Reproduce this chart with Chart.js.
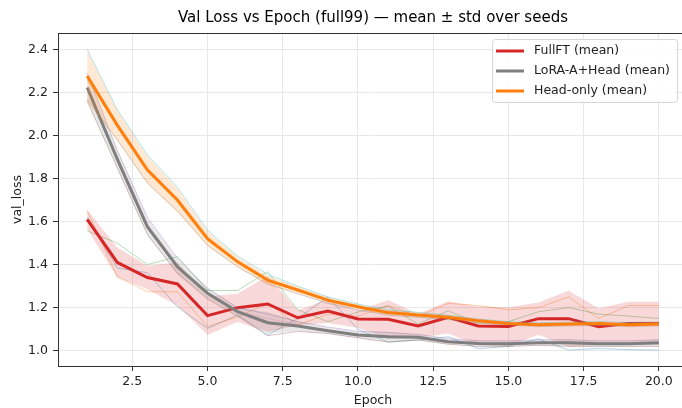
<!DOCTYPE html>
<html>
<head>
<meta charset="utf-8">
<script src="https://cdn.jsdelivr.net/npm/chart.js@4.4.0/dist/chart.umd.min.js"></script>
<style>
  html, body { margin: 0; padding: 0; background: #fff; overflow: hidden; width: 682px; height: 408px; }
  canvas { display: block; }
</style>
</head>
<body>
<canvas id="chart" width="690" height="408"></canvas>
<script>
// val loss per epoch
const epochs = [1, 2, 3, 4, 5, 6, 7, 8, 9, 10, 11, 12, 13, 14, 15, 16, 17, 18, 19, 20];
const xTicks = [2.5, 5.0, 7.5, 10.0, 12.5, 15.0, 17.5, 20.0];
const yTicks = [1.0, 1.2, 1.4, 1.6, 1.8, 2.0, 2.2, 2.4];

// FullFT
const fullMean = [1.61, 1.41, 1.34, 1.31, 1.163, 1.20, 1.217, 1.153, 1.184, 1.147, 1.146, 1.115, 1.155, 1.115, 1.112, 1.149, 1.149, 1.112, 1.127, 1.127];
const fullStd = [0.045, 0.07, 0.055, 0.10, 0.09, 0.065, 0.13, 0.035, 0.055, 0.04, 0.09, 0.055, 0.075, 0.09, 0.09, 0.075, 0.13, 0.085, 0.10, 0.10];
const fullSeed1 = [1.62, 1.384, 1.362, 1.204, 1.104, 1.166, 1.073, 1.15, 1.25, 1.10, 1.04, 1.05, 1.065, 1.01, 1.02, 1.055, 1.003, 1.01, 1.005, 1.003];
const fullSeed2 = [1.65, 1.344, 1.274, 1.274, 1.112, 1.158, 1.22, 1.12, 1.17, 1.16, 1.21, 1.16, 1.22, 1.21, 1.19, 1.20, 1.25, 1.15, 1.21, 1.21];
const fullSeed3 = [1.557, 1.50, 1.40, 1.437, 1.28, 1.28, 1.367, 1.19, 1.135, 1.18, 1.207, 1.124, 1.186, 1.127, 1.135, 1.181, 1.20, 1.17, 1.161, 1.15];

// LoRA-A+Head
const loraMean = [2.223, 1.89, 1.576, 1.39, 1.267, 1.181, 1.13, 1.115, 1.093, 1.073, 1.065, 1.062, 1.042, 1.034, 1.032, 1.037, 1.037, 1.032, 1.032, 1.037];
const loraStd = [0.065, 0.045, 0.04, 0.035, 0.025, 0.02, 0.05, 0.023, 0.015, 0.015, 0.023, 0.013, 0.013, 0.013, 0.013, 0.013, 0.016, 0.013, 0.013, 0.016];
const loraSeed1 = [2.29, 1.93, 1.62, 1.43, 1.29, 1.20, 1.17, 1.135, 1.11, 1.09, 1.085, 1.076, 1.056, 1.047, 1.046, 1.051, 1.051, 1.046, 1.046, 1.051];
const loraSeed2 = [2.16, 1.85, 1.54, 1.36, 1.24, 1.16, 1.07, 1.09, 1.08, 1.06, 1.04, 1.05, 1.03, 1.02, 1.02, 1.025, 1.02, 1.02, 1.02, 1.02];
const loraSeed3 = [2.22, 1.89, 1.57, 1.38, 1.27, 1.18, 1.15, 1.12, 1.09, 1.07, 1.07, 1.06, 1.04, 1.035, 1.03, 1.035, 1.04, 1.03, 1.03, 1.04];

// Head-only
const headMean = [2.276, 2.048, 1.84, 1.70, 1.52, 1.413, 1.328, 1.282, 1.235, 1.204, 1.177, 1.166, 1.155, 1.139, 1.127, 1.121, 1.124, 1.127, 1.121, 1.124];
const headStd = [0.12, 0.07, 0.065, 0.055, 0.035, 0.025, 0.022, 0.017, 0.015, 0.013, 0.012, 0.011, 0.01, 0.009, 0.008, 0.009, 0.009, 0.009, 0.009, 0.009];
const headSeed1 = [2.40, 2.12, 1.91, 1.76, 1.56, 1.44, 1.355, 1.30, 1.25, 1.217, 1.19, 1.178, 1.165, 1.147, 1.135, 1.13, 1.133, 1.136, 1.131, 1.133];
const headSeed2 = [2.26, 2.04, 1.83, 1.69, 1.51, 1.41, 1.32, 1.28, 1.235, 1.205, 1.175, 1.165, 1.155, 1.14, 1.127, 1.12, 1.124, 1.128, 1.12, 1.124];
const headSeed3 = [2.17, 1.98, 1.78, 1.65, 1.49, 1.39, 1.31, 1.265, 1.22, 1.19, 1.165, 1.155, 1.145, 1.13, 1.12, 1.112, 1.115, 1.117, 1.112, 1.115];

const FONT = "'DejaVu Sans', 'Liberation Sans', sans-serif";

function pts(arr) {
  return epochs.map((e, i) => ({ x: e, y: arr[i] }));
}
function band(mean, std, sign) {
  return epochs.map((e, i) => ({ x: e, y: mean[i] + sign * std[i] }));
}
function hexA(hex, a) {
  const n = parseInt(hex.slice(1), 16);
  return `rgba(${(n >> 16) & 255},${(n >> 8) & 255},${n & 255},${a})`;
}

const methods = [
  { label: "FullFT (mean)", color: "#d62728", mean: fullMean, std: fullStd,
    seeds: [[fullSeed1, "#1f77b4"], [fullSeed2, "#ff7f0e"], [fullSeed3, "#2ca02c"]] },
  { label: "LoRA-A+Head (mean)", color: "#7f7f7f", mean: loraMean, std: loraStd,
    seeds: [[loraSeed1, "#9467bd"], [loraSeed2, "#8c564b"], [loraSeed3, "#e377c2"]] },
  { label: "Head-only (mean)", color: "#ff7f0e", mean: headMean, std: headStd,
    seeds: [[headSeed1, "#17becf"], [headSeed2, "#bcbd22"], [headSeed3, "#7f7f7f"]] },
];

// build datasets in matplotlib draw order (later = on top)
const datasets = [];
let k = 0;
methods.forEach((m) => {
  m.seeds.forEach(([arr, col]) => {
    datasets.push({ data: pts(arr), borderColor: hexA(col, 0.35), borderWidth: 1,
      pointRadius: 0, fill: false, order: 1000 - k++, isMean: false });
  });
  datasets.push({ data: band(m.mean, m.std, 1), borderColor: "transparent", borderWidth: 0,
    pointRadius: 0, fill: "+1", backgroundColor: hexA(m.color, 0.18), order: 1000 - k++, isMean: false });
  datasets.push({ data: band(m.mean, m.std, -1), borderColor: "transparent", borderWidth: 0,
    pointRadius: 0, fill: false, order: 1000 - k++, isMean: false });
  datasets.push({ label: m.label, data: pts(m.mean), borderColor: m.color, borderWidth: 3,
    pointRadius: 0, fill: false, order: 1000 - k++, isMean: true });
});

// frame, centred title and matplotlib-like legend
const decor = {
  id: "decor",
  afterDraw(chart) {
    const { ctx, chartArea: a } = chart;
    ctx.save();
    ctx.strokeStyle = "#333";
    ctx.lineWidth = 1;
    ctx.beginPath();
    ctx.moveTo(a.left, a.top + 0.5);
    ctx.lineTo(a.right, a.top + 0.5);
    ctx.lineTo(a.right - 0.5, a.bottom);
    ctx.stroke();

    ctx.fillStyle = "#000";
    ctx.font = "15px " + FONT;
    ctx.textAlign = "center";
    ctx.textBaseline = "middle";
    ctx.fillText("Val Loss vs Epoch (full99) \u2014 mean \u00b1 std over seeds", (a.left + a.right) / 2, 18);

    // legend
    const items = chart.data.datasets.filter((d) => d.isMean);
    const boxR = a.right - 11, boxT = a.top + 6, boxL = 492, boxB = boxT + 63;
    ctx.beginPath();
    ctx.roundRect(boxL + 0.5, boxT + 0.5, boxR - boxL, boxB - boxT, 3);
    ctx.fillStyle = "rgba(255,255,255,0.8)";
    ctx.fill();
    ctx.strokeStyle = "#d6d6d6";
    ctx.stroke();
    ctx.font = "12.5px " + FONT;
    ctx.textAlign = "left";
    items.forEach((d, i) => {
      const y = boxT + 12 + i * 20;
      ctx.strokeStyle = d.borderColor;
      ctx.lineWidth = 3;
      ctx.beginPath();
      ctx.moveTo(boxL + 4, y);
      ctx.lineTo(boxL + 32, y);
      ctx.stroke();
      ctx.fillStyle = "#222";
      ctx.fillText(d.label, boxL + 42, y);
    });
    ctx.restore();
  },
};

new Chart(document.getElementById("chart"), {
  type: "line",
  data: { datasets },
  options: {
    responsive: false,
    animation: false,
    devicePixelRatio: 1,
    layout: { padding: { top: 33, right: 2 } },
    plugins: { legend: { display: false }, tooltip: { enabled: false }, title: { display: false } },
    scales: {
      x: {
        type: "linear",
        min: 0.03,
        max: 20.97,
        afterFit(s) { s.height = 42; },
        afterBuildTicks(s) { s.ticks = xTicks.map((v) => ({ value: v })); },
        ticks: { font: { family: FONT, size: 12.5 }, color: "#222", padding: 3,
          maxRotation: 0, autoSkip: false, callback: (v) => Number(v).toFixed(1) },
        grid: { color: "#e8e8e8", lineWidth: 1, tickLength: 5, tickColor: "#333" },
        border: { color: "#333", width: 1 },
        title: { display: true, text: "Epoch", font: { family: FONT, size: 12.5 }, color: "#222",
          padding: { top: 2, bottom: 0 } },
      },
      y: {
        min: 0.929,
        max: 2.476,
        afterFit(s) { s.width = 58; },
        afterBuildTicks(s) { s.ticks = yTicks.map((v) => ({ value: v })); },
        ticks: { font: { family: FONT, size: 12.5 }, color: "#222", padding: 5,
          autoSkip: false, callback: (v) => Number(v).toFixed(1) },
        grid: { color: "#e8e8e8", lineWidth: 1, tickLength: 5, tickColor: "#333" },
        border: { color: "#333", width: 1 },
        title: { display: true, text: "val_loss", font: { family: FONT, size: 12.5 }, color: "#222",
          padding: { top: 10, bottom: 0 } },
      },
    },
  },
  plugins: [decor],
});
</script>
</body>
</html>
